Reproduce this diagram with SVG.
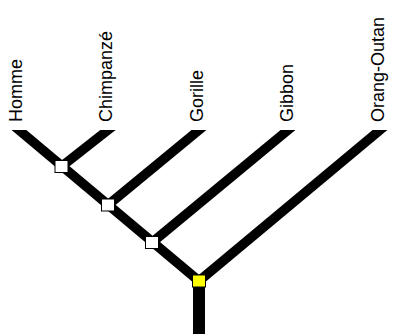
<svg xmlns="http://www.w3.org/2000/svg" width="394" height="334" viewBox="0 0 394 334">
<style>
.br{stroke:#000;stroke-width:9.5;fill:none}
.lbl{font-family:"Liberation Sans",Arial,sans-serif;font-size:18px;fill:#000}
.nd{stroke:#000;stroke-width:1}
</style>
<defs><clipPath id="top"><rect x="0" y="130" width="394" height="204"/></clipPath></defs>
<rect width="394" height="334" fill="#fff"/>
<g id="connectors" clip-path="url(#top)">
<line class="br" x1="199" y1="281" x2="7" y2="120"/>
<line class="br" x1="61.5" y1="166.5" x2="120.7" y2="120"/>
<line class="br" x1="108" y1="205" x2="211.1" y2="120"/>
<line class="br" x1="152" y1="242.5" x2="300.1" y2="120"/>
<line class="br" x1="199" y1="281" x2="392" y2="120"/>
<line x1="199" y1="281" x2="199" y2="340" stroke="#000" stroke-width="12"/>
</g>
<g id="n1"><rect class="nd" x="55" y="160.5" width="13" height="12" fill="#fff"/></g>
<g id="n2"><rect class="nd" x="101.5" y="199" width="13" height="12" fill="#fff"/></g>
<g id="n3"><rect class="nd" x="145.5" y="236.5" width="13" height="12" fill="#fff"/></g>
<g id="root"><rect class="nd" x="192.5" y="275" width="13" height="12" fill="#ffff00"/></g>
<g id="l-homme"><text class="lbl" transform="translate(22,122) rotate(-90)">Homme</text></g>
<g id="l-chimp"><text class="lbl" transform="translate(112,122) rotate(-90)">Chimpanzé</text></g>
<g id="l-gorille"><text class="lbl" transform="translate(203,122) rotate(-90)">Gorille</text></g>
<g id="l-gibbon"><text class="lbl" transform="translate(293,122) rotate(-90)">Gibbon</text></g>
<g id="l-orang"><text class="lbl" transform="translate(384,122) rotate(-90)">Orang-Outan</text></g>
</svg>
